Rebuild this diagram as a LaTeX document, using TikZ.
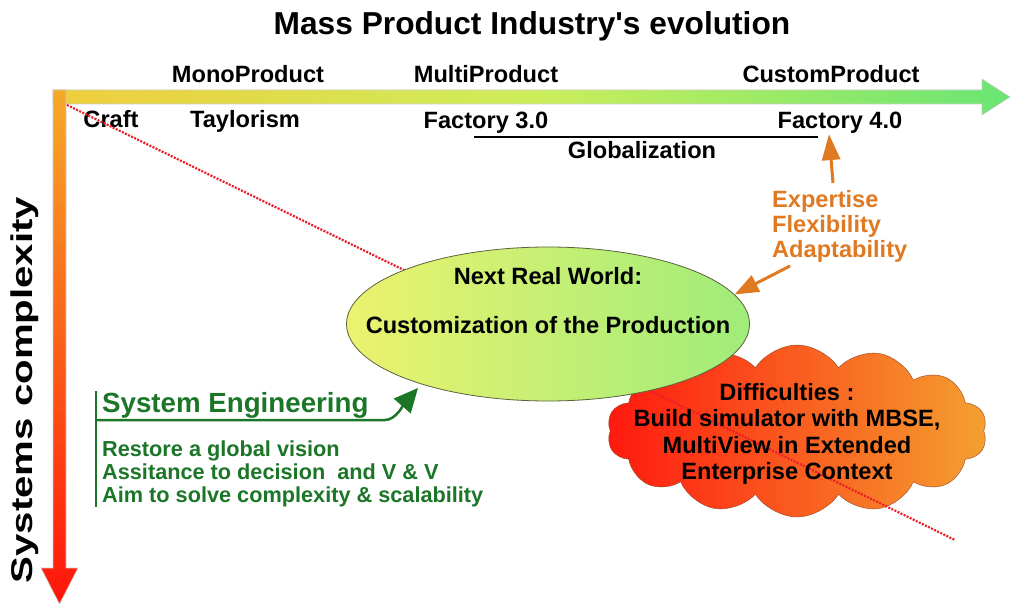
\documentclass[tikz,border=0pt]{standalone}
\usepackage{fontspec}
\setmainfont{Liberation Sans}
\usetikzlibrary{arrows.meta,shapes.geometric,shapes.symbols}

\definecolor{barL}{RGB}{240,205,60}
\definecolor{barM}{RGB}{205,238,90}
\definecolor{barR}{RGB}{105,230,115}
\definecolor{colT}{RGB}{245,170,40}
\definecolor{colB}{RGB}{255,20,10}
\definecolor{nrwL}{RGB}{236,242,110}
\definecolor{nrwR}{RGB}{160,236,122}
\definecolor{nrwEdge}{RGB}{90,100,60}
\definecolor{cloudL}{RGB}{255,25,15}
\definecolor{cloudR}{RGB}{244,160,48}
\definecolor{cloudEdge}{RGB}{150,70,40}
\definecolor{skillC}{RGB}{224,122,34}
\definecolor{seGreen}{RGB}{28,118,40}
\definecolor{dotRed}{RGB}{235,30,40}

\begin{document}
\begin{tikzpicture}[x=1pt, y=-1pt,
    lbl/.style={font=\fontsize{23.6}{26.3}\selectfont\bfseries, inner sep=0pt, anchor=base},
    bigarrow/.style={draw=gray!40, line width=0.6pt}]
    \fill[white] (0,0) rectangle (1010,604);
    \useasboundingbox (0,0) rectangle (1010,604);

    % axes
    \path[bigarrow, left color=barL, right color=barR, middle color=barM]
        (53,90) -- (982,90) -- (982,79) -- (1010,97) -- (982,115) -- (982,104) -- (53,104) -- cycle;
    \path[bigarrow, top color=colT, bottom color=colB]
        (53,90) -- (66,90) -- (66,568) -- (78,568) -- (59.5,604) -- (41,568) -- (53,568) -- cycle;

    \node[lbl, font=\fontsize{31.7}{34}\selectfont\bfseries] (title) at (532,35) {Mass Product Industry\textquotesingle s evolution};
    \node[lbl, anchor=center, rotate=90, font=\fontsize{30}{32}\selectfont\bfseries] (sysc) at (25,390) {\scalebox{1.34}[1]{Systems complexity}};

    \node[lbl] (mono) at (248,83) {MonoProduct};
    \node[lbl] (multi) at (486,83) {MultiProduct};
    \node[lbl] (custom) at (831,83) {CustomProduct};
    \node[lbl] (craft) at (111,128) {Craft};
    \node[lbl] (taylor) at (245,128) {Taylorism};
    \node[lbl] (f3) at (486,129) {Factory 3.0};
    \node[lbl] (f4) at (840,129) {Factory 4.0};
    \node[lbl] (glob) at (642,159) {Globalization};
    \coordinate (globL) at (474,137);
    \coordinate (globR) at (818,137);
    \draw[line width=2.8pt] (globL) -- (globR);

    % difficulties cloud and trend line
    \node[cloud, cloud puffs=14, cloud puff arc=115, cloud ignores aspect, draw=cloudEdge,
          left color=cloudL, right color=cloudR, minimum width=380pt, minimum height=172pt,
          inner sep=0pt] (diff) at (797,431) {};
    \coordinate (trendA) at (67,105);
    \coordinate (trendB) at (955,540);
    \draw[dotRed, line width=2.2pt, dash pattern=on 2pt off 1.4pt] (trendA) -- (trendB);
    \node[lbl, anchor=center, align=center] (diffTxt) at (787,434)
        {Difficulties :\\Build simulator with MBSE,\\MultiView in Extended\\Enterprise Context};

    % next real world
    \node[ellipse, draw=nrwEdge, line width=0.8pt, left color=nrwL, right color=nrwR,
          minimum width=403pt, minimum height=154pt, inner sep=0pt] (nrw) at (548,324) {};
    \node[lbl] (nrwA) at (548,285) {Next Real World:};
    \node[lbl] (nrwB) at (548,334) {Customization of the Production};

    % skills
    \node[lbl, anchor=west, align=left, text=skillC, font=\fontsize{23.6}{25}\selectfont\bfseries]
        (skills) at (772,226) {Expertise\\Flexibility\\Adaptability};
    \coordinate (skillsUp) at (833,183);
    \coordinate (skillsDown) at (790,266);
    \draw[skillC, line width=3pt, -{Triangle[length=26pt,width=18pt]}] (skillsUp) -- ([xshift=-11pt]f4.south);
    \draw[skillC, line width=3pt, -{Triangle[length=24pt,width=18pt]}] (skillsDown) -- (nrw.9);

    % system engineering
    \node[lbl, anchor=base west, text=seGreen, font=\fontsize{27.7}{30}\selectfont\bfseries]
        (se) at (102,412) {System Engineering};
    \node[lbl, anchor=west, align=left, text=seGreen, font=\fontsize{21.7}{23}\selectfont\bfseries]
        (seList) at (102,474) {Restore a global vision\\Assitance to decision\ \ and V \& V\\Aim to solve complexity \& scalability};
    \coordinate (seTop) at (96,391);
    \coordinate (seBot) at (96,507);
    \coordinate (seKnee) at (96,420);
    \coordinate (seTip) at (418,388);
    \draw[seGreen, line width=2.5pt] (seTop) -- (seBot);
    \draw[seGreen, line width=2.5pt, -{Triangle[length=24pt,width=22pt]}]
        (seKnee) -- (385,420) .. controls (396,420) and (404,404) .. (seTip);
\end{tikzpicture}
\end{document}
